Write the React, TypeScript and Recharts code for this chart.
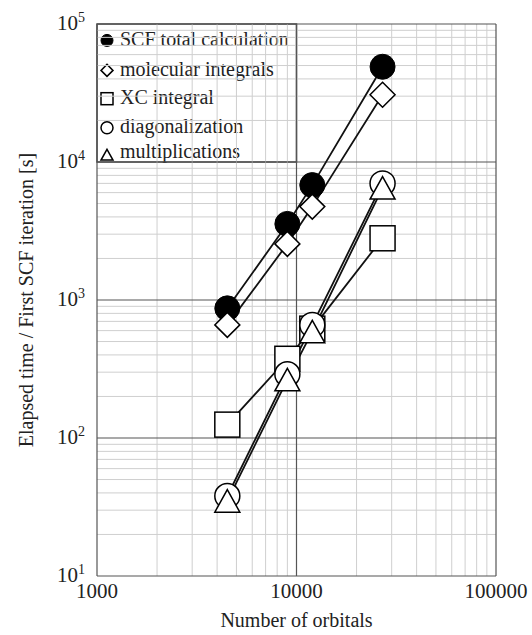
import { LineChart, Line, XAxis, YAxis, ReferenceLine, ReferenceArea } from 'recharts';

// orbitals on the x axis, times in seconds
const orbitals = [4500, 9000, 12000, 27000];
const scfTotal = [870, 3560, 6800, 49000];
const molIntegrals = [660, 2550, 4750, 30700];
const xcIntegral = [125, 375, 620, 2800];
const diagonalization = [38, 290, 660, 7000];
const multiplications = [35, 265, 590, 6500];

const xTicks = [1000, 10000, 100000];
const yTicks = [10, 100, 1000, 10000, 100000];
const xMinor = [2000, 3000, 4000, 5000, 6000, 7000, 8000, 9000, 20000, 30000, 40000, 50000, 60000, 70000, 80000, 90000];
const yMinor = [
  20, 30, 40, 50, 60, 70, 80, 90,
  200, 300, 400, 500, 600, 700, 800, 900,
  2000, 3000, 4000, 5000, 6000, 7000, 8000, 9000,
  20000, 30000, 40000, 50000, 60000, 70000, 80000, 90000,
];

const legendLabels = ['SCF total calculation', 'molecular integrals', 'XC integral', 'diagonalization', 'multiplications'];

const data = orbitals.map((x, i) => ({
  x,
  scf: scfTotal[i],
  mol: molIntegrals[i],
  xc: xcIntegral[i],
  diag: diagonalization[i],
  mult: multiplications[i],
}));

type Kind = 'filled' | 'diamond' | 'square' | 'circle' | 'triangle';

function Marker({ kind, cx, cy, s }: { kind: Kind; cx: number; cy: number; s: number }) {
  const h = s / 2;
  const common = { stroke: '#000', strokeWidth: 1.5, fill: '#fff' };
  if (kind === 'filled') return <circle cx={cx} cy={cy} r={h} fill="#000" stroke="#000" />;
  if (kind === 'circle') return <circle cx={cx} cy={cy} r={h} {...common} />;
  if (kind === 'square') return <rect x={cx - h} y={cy - h} width={s} height={s} {...common} />;
  if (kind === 'diamond')
    return <polygon points={`${cx},${cy - h} ${cx + h},${cy} ${cx},${cy + h} ${cx - h},${cy}`} {...common} />;
  const th = s * 0.9;
  return (
    <polygon
      points={`${cx},${cy - th / 2} ${cx + h},${cy + th / 2} ${cx - h},${cy + th / 2}`}
      {...common}
    />
  );
}

const dot = (kind: Kind) => (props: any) => {
  const { cx, cy, index } = props;
  if (cx == null || cy == null) return <g key={index} />;
  return <Marker key={index} kind={kind} cx={cx} cy={cy} s={25} />;
};

const serif = '"Liberation Serif", "Times New Roman", serif';

function YTick({ x, y, payload }: any) {
  const exp = Math.round(Math.log10(payload.value));
  return (
    <text x={x - 4} y={y} dy={6} textAnchor="end" fontFamily={serif} fontSize={21} fill="#222">
      10<tspan fontSize={14} dy={-8}>{exp}</tspan>
    </text>
  );
}

function XTick({ x, y, payload }: any) {
  return (
    <text x={x} y={y} dy={14} textAnchor="middle" fontFamily={serif} fontSize={21} fill="#222">
      {payload.value}
    </text>
  );
}

function YLabel({ viewBox }: any) {
  const cy = viewBox.y + viewBox.height / 2;
  const cx = 26;
  return (
    <text x={cx} y={cy} transform={`rotate(-90 ${cx} ${cy})`} textAnchor="middle" dominantBaseline="central" fontFamily={serif} fontSize={20} fill="#222">
      Elapsed time / First SCF iteration [s]
    </text>
  );
}

const kinds: Kind[] = ['filled', 'diamond', 'square', 'circle', 'triangle'];
const iconDy = [16.4, 46.4, 74.7, 103.7, 130.7];
const textDy = [22.4, 52.4, 79.7, 108.7, 133.7];

function LegendBox(props: any) {
  const { x, y, width, height } = props;
  return (
    <g>
      <rect x={x} y={y} width={width} height={height} fill="#fff" stroke="#444" strokeWidth={1.5} />
      {legendLabels.map((label, i) => (
        <g key={label}>
          <Marker kind={kinds[i]} cx={x + 10} cy={y + iconDy[i]} s={12} />
          <text x={x + 23} y={y + textDy[i]} fontFamily={serif} fontSize={20} fill="#222">
            {label}
          </text>
        </g>
      ))}
    </g>
  );
}

export default function App() {
  return (
    <div style={{ position: 'absolute', left: 0, top: 0, background: '#fff' }}>
      <LineChart width={532} height={635} data={data} margin={{ top: 24, right: 36, bottom: 0, left: 0 }}>
        <XAxis
          dataKey="x"
          type="number"
          scale="log"
          domain={[1000, 100000]}
          ticks={xTicks}
          allowDataOverflow
          axisLine={false}
          tickLine={false}
          tick={<XTick />}
          height={59}
          label={{ value: 'Number of orbitals', position: 'insideBottom', offset: 8, fontFamily: serif, fontSize: 20, fill: '#222' }}
        />
        <YAxis
          type="number"
          scale="log"
          domain={[10, 100000]}
          ticks={yTicks}
          allowDataOverflow
          axisLine={false}
          tickLine={false}
          tick={<YTick />}
          width={97}
          label={<YLabel />}
        />
        {xMinor.map((v) => (
          <ReferenceLine key={'xm' + v} x={v} stroke="#cfcfcf" strokeWidth={1} />
        ))}
        {yMinor.map((v) => (
          <ReferenceLine key={'ym' + v} y={v} stroke="#cfcfcf" strokeWidth={1} />
        ))}
        {xTicks.map((v) => (
          <ReferenceLine key={'xM' + v} x={v} stroke="#555" strokeWidth={1.2} />
        ))}
        {yTicks.map((v) => (
          <ReferenceLine key={'yM' + v} y={v} stroke="#555" strokeWidth={1.2} />
        ))}
        <ReferenceArea x1={1000} x2={10000} y1={10000} y2={100000} shape={<LegendBox />} />
        <Line dataKey="scf" stroke="#111" strokeWidth={1.8} dot={dot('filled')} isAnimationActive={false} />
        <Line dataKey="mol" stroke="#111" strokeWidth={1.8} dot={dot('diamond')} isAnimationActive={false} />
        <Line dataKey="xc" stroke="#111" strokeWidth={1.8} dot={dot('square')} isAnimationActive={false} />
        <Line dataKey="diag" stroke="#111" strokeWidth={1.8} dot={dot('circle')} isAnimationActive={false} />
        <Line dataKey="mult" stroke="#111" strokeWidth={1.8} dot={dot('triangle')} isAnimationActive={false} />
      </LineChart>
    </div>
  );
}
